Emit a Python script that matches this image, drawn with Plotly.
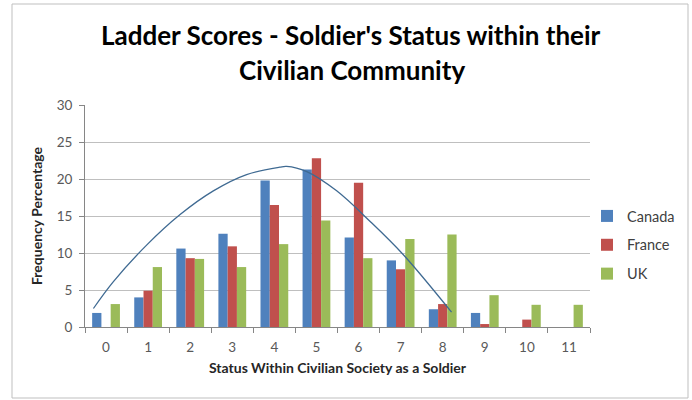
import plotly.graph_objects as go

categories = list(range(12))
tick_labels = [str(c) for c in categories]
canada = [1.9, 4.0, 10.6, 12.6, 19.8, 21.3, 12.1, 9.0, 2.4, 1.9, 0, 0]
france = [0, 4.9, 9.3, 10.9, 16.5, 22.8, 19.5, 7.8, 3.1, 0.4, 1.0, 0]
uk = [3.1, 8.1, 9.2, 8.1, 11.2, 14.4, 9.3, 11.9, 12.5, 4.3, 3.0, 3.0]

trend_x = [-0.30, 0.17, 0.97, 1.76, 2.55, 3.34, 4.13, 4.29, 4.77, 5.48, 6.27, 7.06, 8.21]
trend_y = [2.5, 6.1, 11.1, 15.2, 18.4, 20.6, 21.6, 21.7, 21.0, 18.4, 14.3, 9.8, 2.0]

W, H = 692, 400
L, R, T, B = 85, 102, 105, 73
FONT = "Lato"
PW, PH = W - L - R, H - T - B

def px(x):
    return (x - L) / PW

def py(y):
    return 1 - (y - T) / PH

fig = go.Figure()
for name, vals, col in [("Canada", canada, "#4F81BD"), ("France", france, "#C0504D"), ("UK", uk, "#9BBB59")]:
    fig.add_trace(go.Bar(x=categories, y=vals, name=name, legendgroup=name,
                         marker=dict(color=col, line=dict(width=0))))

fig.add_trace(go.Scatter(x=trend_x, y=trend_y, mode="lines",
                         line=dict(color="#3f6a92", width=1.3, shape="spline", smoothing=1.0),
                         showlegend=False, hoverinfo="skip"))

fig.update_layout(
    width=W, height=H,
    margin=dict(l=L, r=R, t=T, b=B, autoexpand=False),
    paper_bgcolor="white", plot_bgcolor="white",
    barmode="group", bargap=0.34, bargroupgap=0,
    font=dict(family=FONT, color="#404040"),
    showlegend=True,
    legend=dict(x=px(587), xanchor="left", y=py(200), yanchor="top",
                font=dict(size=14.5, color="#404040", family=FONT), tracegroupgap=7,
                itemwidth=30, bgcolor="rgba(0,0,0,0)"),
    xaxis=dict(range=[-0.5, 11.5], tickmode="array", tickvals=categories, ticktext=tick_labels, ticks="",
               showline=True, linecolor="#868686", linewidth=1, showgrid=False, zeroline=False,
               tickfont=dict(size=13.5, color="#595959"), ticklabelstandoff=8,
               minor=dict(tickmode="array", tickvals=[c - 0.5 for c in categories] + [11.5], ticks="outside", ticklen=5,
                          tickcolor="#868686", showgrid=False),
               title=dict(text="<b>Status Within Civilian Society as a Soldier</b>",
                          font=dict(size=14, color="#262626"), standoff=8)),
    yaxis=dict(range=[0, 30], tickmode="array", tickvals=[0, 5, 10, 15, 20, 25, 30], ticks="outside", ticklen=5,
               tickcolor="#868686", showline=True, linecolor="#868686", linewidth=1,
               showgrid=True, gridcolor="#bfbfbf", gridwidth=1, zeroline=False,
               tickfont=dict(size=13.5, color="#595959"), ticklabelstandoff=4,
               title=dict(text="<b>Frequency Percentage</b>", font=dict(size=14, color="#262626"), standoff=10)),
    shapes=[dict(type="rect", xref="paper", yref="paper",
                 x0=px(12), x1=px(688), y0=py(398), y1=py(4),
                 line=dict(color="#bfbfbf", width=1), layer="below")],
    annotations=[
        dict(text="<b>Ladder Scores - Soldier's Status within their</b>", xref="paper", yref="paper",
             x=px(351), y=py(35), xanchor="center", yanchor="middle",
             showarrow=False, font=dict(size=26, color="#000000", family=FONT)),
        dict(text="<b>Civilian Community</b>", xref="paper", yref="paper",
             x=px(352), y=py(70), xanchor="center", yanchor="middle",
             showarrow=False, font=dict(size=26, color="#000000", family=FONT)),
    ],
)

fig.write_html("out.html")
